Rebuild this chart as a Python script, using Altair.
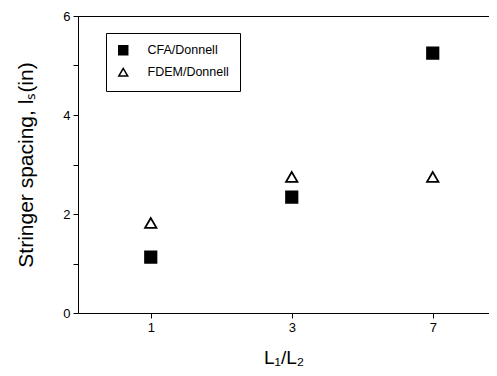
import altair as alt
import pandas as pd

X_LABELS = ["1", "3", "7"]
CFA = [1.13, 2.34, 5.25]
FDEM = [1.82, 2.75, 2.75]
SERIES = ["CFA/Donnell", "FDEM/Donnell"]

rows = []
for i, lab in enumerate(X_LABELS):
    rows.append({"idx": i, "ratio": lab, "series": SERIES[0], "val": CFA[i]})
    rows.append({"idx": i, "ratio": lab, "series": SERIES[1], "val": FDEM[i]})
df = pd.DataFrame(rows)

label_expr = "[" + ",".join("'%s'" % s for s in X_LABELS) + "][round(datum.value)]"
FONT = "Liberation Sans"
xscale = alt.Scale(domain=[-0.516, 2.399], nice=False, zero=False)
yscale = alt.Scale(domain=[0, 6], nice=False)

y_axis = alt.Axis(values=[0, 1, 2, 3, 4, 5, 6],
                  labelExpr="datum.value % 2 == 0 ? datum.label : ''",
                  title="Stringer spacing, lₛ(in)", grid=False, tickSize=5,
                  tickColor="black", domainColor="black", labelFontSize=13,
                  labelColor="black", titleFontSize=21, titleFontWeight="normal",
                  titleColor="black", labelPadding=3, titlePadding=26,
                  labelFont=FONT, titleFont=FONT)


def leg():
    return alt.Legend(title=None, orient="none", legendX=28, legendY=17,
                      strokeColor="black", fillColor="white", padding=11,
                      labelFontSize=12.5, labelFont=FONT, labelColor="black",
                      symbolSize=80, symbolStrokeWidth=1.5, rowPadding=7,
                      labelOffset=18)


points = alt.Chart(df).mark_point(filled=False, size=130, strokeWidth=1.8, opacity=1).encode(
    x=alt.X("idx:Q", scale=xscale,
            axis=alt.Axis(values=[0, 1, 2], labelExpr=label_expr, title="L₁/L₂",
                          grid=False, tickSize=5, tickColor="black", domainColor="black",
                          labelFontSize=13, labelColor="black", titleFontSize=19,
                          titleFontWeight="normal", titleColor="black", labelPadding=3,
                          titlePadding=14, labelFont=FONT, titleFont=FONT)),
    y=alt.Y("val:Q", scale=yscale, axis=y_axis),
    shape=alt.Shape("series:N", scale=alt.Scale(domain=SERIES, range=["square", "triangle-up"]),
                    legend=leg()),
    fill=alt.Fill("series:N", scale=alt.Scale(domain=SERIES, range=["black", "white"]),
                  legend=leg()),
    stroke=alt.Stroke("series:N", scale=alt.Scale(domain=SERIES, range=["black", "black"]),
                      legend=leg()),
)

top = alt.Chart(df).mark_point(opacity=0).encode(
    x=alt.X("idx:Q", scale=xscale,
            axis=alt.Axis(orient="top", labels=False, ticks=False, grid=False, title=None,
                          domainColor="black")),
    y=alt.Y("val:Q", scale=yscale, axis=y_axis),
)

chart = alt.layer(points, top).resolve_axis(x="independent").properties(
    width=411, height=297,
    autosize=alt.AutoSizeParams(type="none"),
    padding={"left": 70, "top": 8, "right": 0, "bottom": 55},
).configure_view(stroke=None).configure(background="white")

chart.save("out.html", embed_options={"renderer": "svg", "actions": False})
